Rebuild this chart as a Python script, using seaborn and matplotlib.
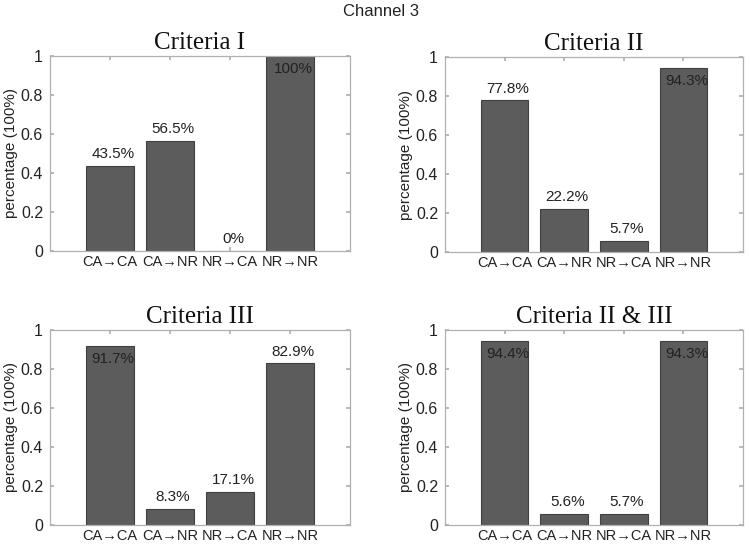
import matplotlib
matplotlib.use("Agg")
import matplotlib.pyplot as plt
import seaborn as sns
import pandas as pd

categories = ["CA→CA", "CA→NR", "NR→CA", "NR→NR"]
titles = ["Criteria I", "Criteria II", "Criteria III", "Criteria II & III"]
crit1 = [0.435, 0.565, 0.0, 1.0]
crit2 = [0.778, 0.222, 0.057, 0.943]
crit3 = [0.917, 0.083, 0.171, 0.829]
crit23 = [0.944, 0.056, 0.057, 0.943]
labels1 = ["43.5%", "56.5%", "0%", "100%"]
labels2 = ["77.8%", "22.2%", "5.7%", "94.3%"]
labels3 = ["91.7%", "8.3%", "17.1%", "82.9%"]
labels23 = ["94.4%", "5.6%", "5.7%", "94.3%"]
yticks = [0, 0.2, 0.4, 0.6, 0.8, 1]
ytick_labels = ["0", "0.2", "0.4", "0.6", "0.8", "1"]

sns.set_theme(style="white")
plt.rcParams['font.family'] = ['Liberation Sans', 'DejaVu Sans']

fig = plt.figure(figsize=(7.5, 5.49), dpi=100)
W, H = 750, 549
boxes = [(50, 56, 300, 195), (445, 57, 298, 195), (50, 330, 300, 195), (445, 330, 298, 195)]
series = [crit1, crit2, crit3, crit23]
labs = [labels1, labels2, labels3, labels23]
barcol = "#5c5c5c"
edgecol = "#404040"
axcol = "#b0b0b0"

for (l, t, w, h), vals, lab, title in zip(boxes, series, labs, titles):
    ax = fig.add_axes([l / W, 1 - (t + h) / H, w / W, h / H])
    df = pd.DataFrame({"cat": categories, "val": vals})
    sns.barplot(data=df, x="cat", y="val", ax=ax, color=barcol, width=0.8,
                saturation=1, edgecolor=edgecol, linewidth=0.8)
    ax.set_xlim(-1, 4)
    ax.set_ylim(0, 1)
    ax.set_yticks(yticks)
    ax.set_yticklabels(ytick_labels, fontsize=11.5, color="#222222")
    ax.tick_params(axis="x", labelsize=10.5, colors="#222222", pad=3)
    ax.tick_params(axis="both", direction="in", length=3, color=axcol,
                   top=True, right=True, bottom=True, left=True, labelcolor="#222222")
    ax.tick_params(axis="y", pad=5)
    for s in ax.spines.values():
        s.set_visible(True)
        s.set_color(axcol)
        s.set_linewidth(0.9)
    ax.set_xlabel("")
    ax.set_ylabel("percentage (100%)", fontsize=11, color="#222222", labelpad=2)
    ax.set_title(title, fontsize=18, family="Liberation Serif", color="#111111", pad=5)
    for i, (v, s) in enumerate(zip(vals, lab)):
        y = v - 0.065 if v > 0.9 else v + 0.06
        ax.text(i + 0.05, y, s, ha="center", va="center", fontsize=11, color="#222222")

fig.text(381 / W, 1 - 12 / H, "Channel 3", ha="center", va="center", fontsize=12, color="#222222")
fig.savefig("out.png", dpi=100)
